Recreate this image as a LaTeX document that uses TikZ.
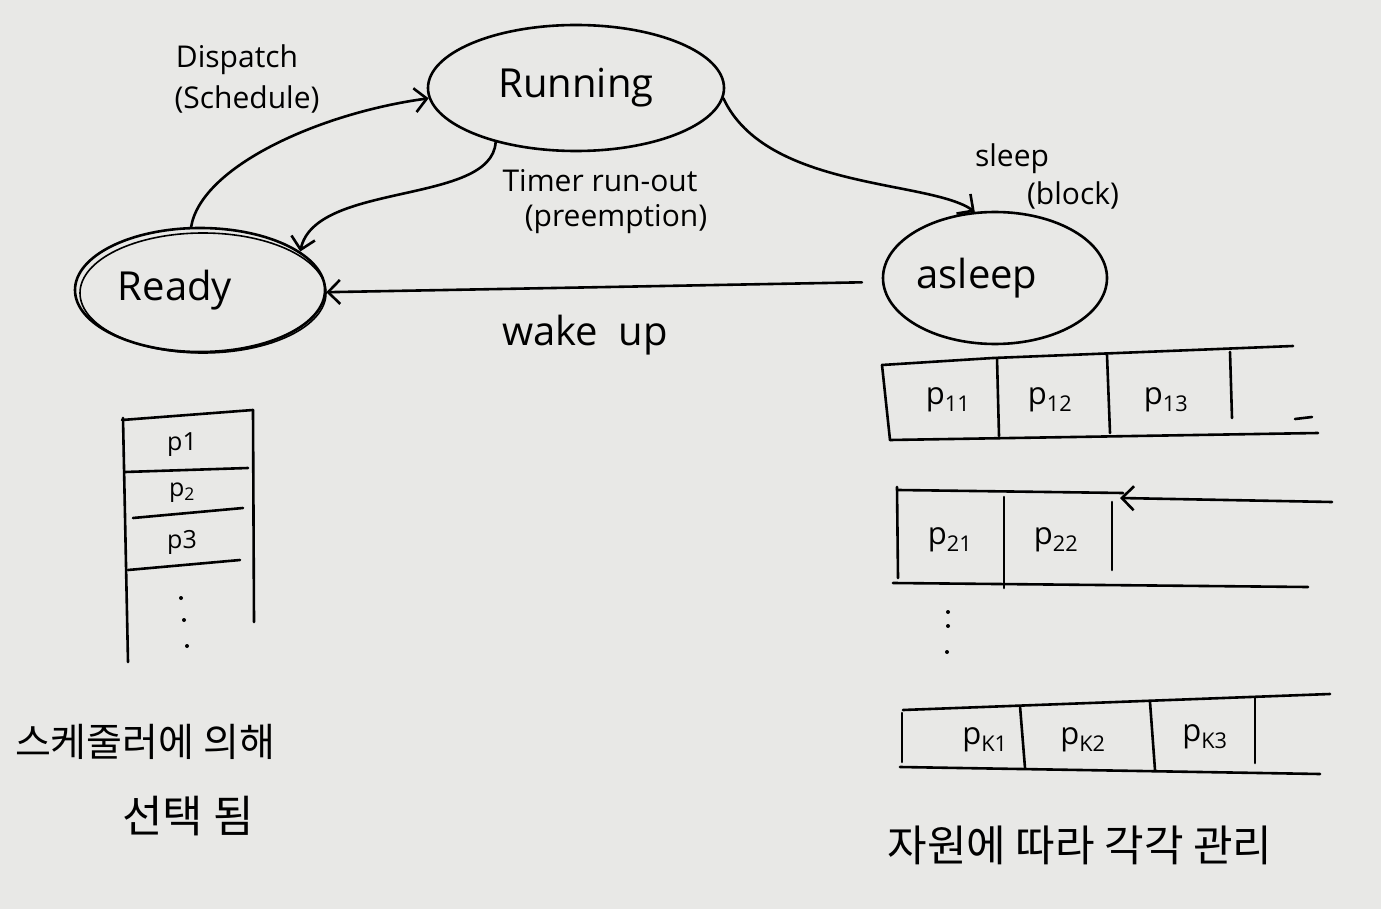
\documentclass[tikz,border=0pt]{standalone}
\usepackage{fontspec}
\setmainfont{Open Sans}
\newfontfamily\krfont{Noto Sans CJK KR}
\usetikzlibrary{shapes.geometric,arrows.meta}
\definecolor{paper}{RGB}{232,232,230}
\begin{document}
\begin{tikzpicture}[x=1pt,y=-1pt,
  pen/.style={line width=2.6pt, black, line cap=round, line join=round},
  state/.style={pen, draw, ellipse, inner sep=0pt, font=\fontsize{40}{42}\selectfont},
  lbl/.style={font=\fontsize{30}{32}\selectfont, inner sep=0pt},
  arr/.style={pen, -{Straight Barb[length=12pt,width=24pt]}},
  cell/.style={font=\fontsize{31}{33}\selectfont, inner sep=0pt},
  small/.style={font=\fontsize{25}{27}\selectfont, inner sep=0pt},
  korean/.style={font=\krfont\fontsize{39}{41}\selectfont, inner sep=0pt},
  dot/.style={fill=black, circle, inner sep=0pt, minimum size=4pt}]
\fill[paper] (0,0) rectangle (1381,909);
\useasboundingbox (0,0) rectangle (1381,909);

% states
\node[state, minimum width=296pt, minimum height=126pt] (running) at (576,88) {Running};
\node[state, minimum width=250pt, minimum height=124pt] (ready) at (200,290) {Ready\hspace*{50pt}};
\draw[pen, line width=1.6pt] (203,293) ellipse [x radius=123pt, y radius=60pt];
\node[state, minimum width=224pt, minimum height=132pt] (asleep) at (995,278) {asleep\hspace*{36pt}};

% transitions
\draw[arr] (ready.98) .. controls +(10,-60) and +(-110,15) .. (running.184);
\draw[arr] (running.214) .. controls +(-4,63) and +(15,-70) .. (ready.21);
\draw[arr] (running.356) .. controls +(43,92) and +(-45,-32) .. (asleep.107);
\draw[arr, shorten <=20pt] (asleep.182) -- (ready.359);

% transition labels
\node[lbl] (ldisp) at (237,60) {Dispatch};
\node[lbl] (lsched) at (247,99) {(Schedule)};
\node[lbl] (ltimer) at (600,181) {Timer run-out};
\node[lbl] (lpre) at (616,219) {(preemption)};
\node[lbl] (lsleep) at (1012,159) {sleep};
\node[lbl] (lblock) at (1073,195) {(block)};
\node[lbl, font=\fontsize{40}{42}\selectfont] (lwake) at (585,335) {wake\ \ up};

% ready queue (left)
\draw[pen] (123,418) -- (128,662);
\draw[pen] (253,410) -- (254,622);
\draw[pen] (122,420) -- (253,410);
\draw[pen] (125,472) -- (248,468);
\draw[pen] (133,518) -- (243,508);
\draw[pen] (128,570) -- (240,560);
\node[small] (p1) at (182,445) {p1};
\node[small] (p2) at (182,493) {p\textsubscript{2}};
\node[small] (p3) at (182,542) {p3};
\node[dot] (ld1) at (181,598) {};
\node[dot] (ld2) at (184,620) {};
\node[dot] (ld3) at (187,646) {};

\node[korean] (kr1) at (145,742) {스케줄러에 의해};
\node[korean, font=\krfont\fontsize{44}{46}\selectfont] (kr2) at (188,816) {선택 됨};

% sleep queues (right)
% queue 1
\draw[pen] (882,365) -- (993,358) -- (1293,346);
\draw[pen] (882,365) -- (890,440);
\draw[pen] (890,440) -- (1318,433);
\draw[pen] (997,358) -- (999,436);
\draw[pen] (1107,355) -- (1110,433);
\draw[pen] (1230,352) -- (1232,418);
\draw[pen] (1295,419) -- (1312,417);
\node[cell] (p11) at (948,400) {p\textsubscript{11}};
\node[cell] (p12) at (1050,400) {p\textsubscript{12}};
\node[cell] (p13) at (1166,400) {p\textsubscript{13}};
% queue 2
\draw[pen] (898,490) -- (1123,493);
\draw[pen] (897,487) -- (898,578);
\draw[pen] (893,583) -- (1308,587);
\draw[pen] (1004,497) -- (1004,588);
\draw[pen] (1112,502) -- (1112,570);
\coordinate (q2end) at (1332,502);
\coordinate (q2tail) at (1120,498);
\draw[arr] (q2end) -- (q2tail);
\node[cell] (p21) at (950,540) {p\textsubscript{21}};
\node[cell] (p22) at (1056,540) {p\textsubscript{22}};
% dots
\node[dot] (rd1) at (948,612) {};
\node[dot] (rd2) at (948,626) {};
\node[dot] (rd3) at (947,652) {};
% queue k
\draw[pen] (903,710) -- (1330,694);
\draw[pen] (902,713) -- (902,762);
\draw[pen] (900,767) -- (1320,774);
\draw[pen] (1020,706) -- (1025,768);
\draw[pen] (1150,702) -- (1155,770);
\draw[pen] (1255,698) -- (1255,763);
\node[cell] (pk1) at (985,740) {p\textsubscript{K1}};
\node[cell] (pk2) at (1083,740) {p\textsubscript{K2}};
\node[cell] (pk3) at (1205,737) {p\textsubscript{K3}};

\node[korean, font=\krfont\fontsize{43}{45}\selectfont] (kr3) at (1080,845) {자원에 따라 각각 관리};
\end{tikzpicture}
\end{document}
